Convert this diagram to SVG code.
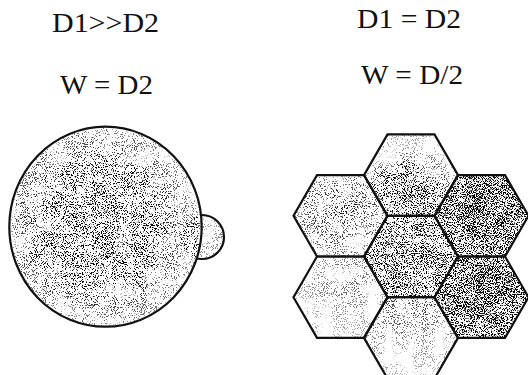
<svg xmlns="http://www.w3.org/2000/svg" xmlns:xlink="http://www.w3.org/1999/xlink" width="528" height="375" viewBox="0 0 528 375">
  <style>
    .lbl { font-family: "Liberation Serif", "Times New Roman", serif; font-size: 27px; fill: #111; }
    .outline { fill: none; stroke: #111; stroke-width: 2.2; stroke-linejoin: miter; }
    .white { fill: #fff; stroke: #111; stroke-width: 2.2; }
  </style>
  <defs>
    <polygon id="hex" points="-47,0 -23.5,-40.7 23.5,-40.7 47,0 23.5,40.7 -23.5,40.7"/>
    <filter id="stipple" filterUnits="userSpaceOnUse" x="0" y="0" width="528" height="375" color-interpolation-filters="sRGB">
      <feTurbulence type="fractalNoise" baseFrequency="0.9" numOctaves="2" seed="7" result="noise"/>
      <feColorMatrix in="noise" type="matrix" values="0 0 0 0 0  0 0 0 0 0  0 0 0 0 0  1 0 0 0 0" result="na"/>
      <feComponentTransfer in="na" result="ns">
        <feFuncA type="linear" slope="3.5" intercept="-1.25"/>
      </feComponentTransfer>
      <feTurbulence type="fractalNoise" baseFrequency="0.06" numOctaves="2" seed="3" result="low"/>
      <feColorMatrix in="low" type="matrix" values="0 0 0 0 0  0 0 0 0 0  0 0 0 0 0  0 1 0 0 0" result="la"/>
      <feComposite in="ns" in2="la" operator="arithmetic" k1="0" k2="1" k3="0.6" k4="-0.3" result="nm"/>
      <feComposite in="nm" in2="SourceAlpha" operator="arithmetic" k1="0" k2="1" k3="1" k4="-1" result="diff"/>
      <feComponentTransfer in="diff">
        <feFuncA type="linear" slope="3.5" intercept="0"/>
      </feComponentTransfer>
    </filter>
    <radialGradient id="gBig" cx="0.47" cy="0.5" r="0.55">
      <stop offset="0" stop-color="#000" stop-opacity="0.4"/>
      <stop offset="0.55" stop-color="#000" stop-opacity="0.3"/>
      <stop offset="1" stop-color="#000" stop-opacity="0.12"/>
    </radialGradient>
    <radialGradient id="gTop" cx="0.45" cy="0.75" r="0.6">
      <stop offset="0" stop-color="#000" stop-opacity="0.44"/>
      <stop offset="0.5" stop-color="#000" stop-opacity="0.32"/>
      <stop offset="1" stop-color="#000" stop-opacity="0.1"/>
    </radialGradient>
    <radialGradient id="gLT" cx="0.5" cy="0.45" r="0.6">
      <stop offset="0" stop-color="#000" stop-opacity="0.27"/>
      <stop offset="1" stop-color="#000" stop-opacity="0.16"/>
    </radialGradient>
    <radialGradient id="gRT" cx="0.5" cy="0.45" r="0.6">
      <stop offset="0" stop-color="#000" stop-opacity="0.64"/>
      <stop offset="1" stop-color="#000" stop-opacity="0.48"/>
    </radialGradient>
    <radialGradient id="gC" cx="0.4" cy="0.5" r="0.65">
      <stop offset="0" stop-color="#000" stop-opacity="0.48"/>
      <stop offset="1" stop-color="#000" stop-opacity="0.3"/>
    </radialGradient>
    <radialGradient id="gLB" cx="0.6" cy="0.3" r="0.7">
      <stop offset="0" stop-color="#000" stop-opacity="0.19"/>
      <stop offset="1" stop-color="#000" stop-opacity="0.09"/>
    </radialGradient>
    <linearGradient id="gB" x1="0" y1="0" x2="0" y2="1">
      <stop offset="0" stop-color="#000" stop-opacity="0.23"/>
      <stop offset="1" stop-color="#000" stop-opacity="0.08"/>
    </linearGradient>
    <radialGradient id="gRB" cx="0.5" cy="0.45" r="0.6">
      <stop offset="0" stop-color="#000" stop-opacity="0.62"/>
      <stop offset="1" stop-color="#000" stop-opacity="0.46"/>
    </radialGradient>
  </defs>

  <rect width="528" height="375" fill="#fff"/>

  <g id="labels">
    <text class="lbl" x="52" y="32" textLength="107" lengthAdjust="spacingAndGlyphs">D1&gt;&gt;D2</text>
    <text class="lbl" x="60" y="94" textLength="93" lengthAdjust="spacingAndGlyphs">W = D2</text>
    <text class="lbl" x="357" y="28" textLength="104" lengthAdjust="spacingAndGlyphs">D1 = D2</text>
    <text class="lbl" x="361" y="84" textLength="102" lengthAdjust="spacingAndGlyphs">W = D/2</text>
  </g>

  <g id="connectors"/>

  <g id="small-mirror">
    <circle class="white" cx="202" cy="237" r="22"/>
  </g>
  <g id="big-mirror">
    <ellipse class="white" cx="105.5" cy="226.7" rx="96.2" ry="100"/>
  </g>
  <g id="circle-stipple" filter="url(#stipple)">
    <circle cx="202" cy="237" r="21" fill="#000" fill-opacity="0.14"/>
    <ellipse cx="105.5" cy="226.7" rx="95" ry="99" fill="url(#gBig)"/>
  </g>

  <g id="hex-stipple" filter="url(#stipple)">
    <use xlink:href="#hex" x="411" y="175.1" fill="url(#gTop)"/>
    <use xlink:href="#hex" x="340.5" y="215.8" fill="url(#gLT)"/>
    <use xlink:href="#hex" x="481.5" y="215.8" fill="url(#gRT)"/>
    <use xlink:href="#hex" x="411" y="256.5" fill="url(#gC)"/>
    <use xlink:href="#hex" x="340.5" y="297.2" fill="url(#gLB)"/>
    <use xlink:href="#hex" x="481.5" y="297.2" fill="url(#gRB)"/>
    <use xlink:href="#hex" x="411" y="337.9" fill="url(#gB)"/>
  </g>
  <g id="hex-top"><use xlink:href="#hex" class="outline" x="411" y="175.1"/></g>
  <g id="hex-left-top"><use xlink:href="#hex" class="outline" x="340.5" y="215.8"/></g>
  <g id="hex-right-top"><use xlink:href="#hex" class="outline" x="481.5" y="215.8"/></g>
  <g id="hex-center"><use xlink:href="#hex" class="outline" x="411" y="256.5"/></g>
  <g id="hex-left-bottom"><use xlink:href="#hex" class="outline" x="340.5" y="297.2"/></g>
  <g id="hex-right-bottom"><use xlink:href="#hex" class="outline" x="481.5" y="297.2"/></g>
  <g id="hex-bottom"><use xlink:href="#hex" class="outline" x="411" y="337.9"/></g>
</svg>
